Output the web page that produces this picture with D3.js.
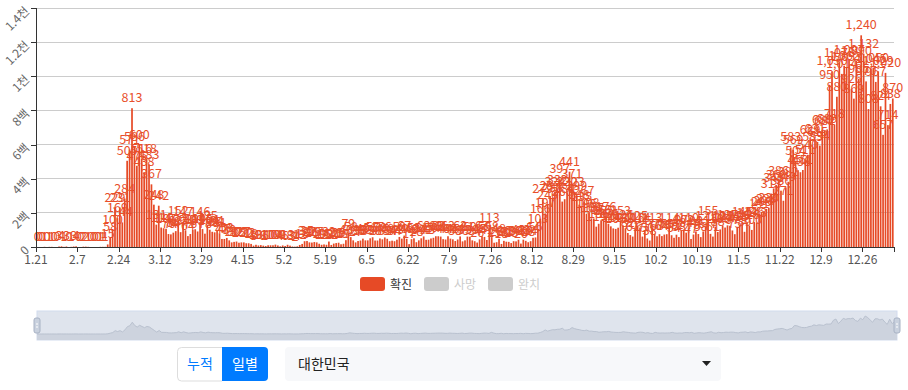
<!DOCTYPE html>
<html>
<head>
<meta charset="utf-8">
<title>코로나19 일별 확진</title>
<script src="https://cdn.jsdelivr.net/npm/d3@7/dist/d3.min.js"></script>
<style>
  body { margin: 0; background: #fff; }
  svg { display: block; font-family: "Noto Sans CJK KR", "Noto Sans", sans-serif; }
</style>
</head>
<body>
<script>
// 일별 확진자 (2020.1.21 ~ 2021.1.7)
var jan = [0,0,0,1,0,1,1,0,0,3,4];
var feb = [1,3,0,1,3,4,0,0,2,2,1,0,0,0,0,1,1,1,15,58,100,229,169,231,144,284,505,571,813];
var mar = [586,476,600,516,438,518,483,367,248,131,242,114,110,107,76,74,84,93,152,87,147,98,64,76,100,104,91,146,105,78,125];
var apr = [101,89,86,94,81,47,47,53,39,27,30,32,25,27,27,22,22,18,8,13,9,11,8,6,10,10,10,14,9,4];
var may = [9,6,13,8,3,2,4,12,18,34,35,27,26,29,27,19,13,15,13,32,12,20,23,25,16,19,40,79,58,39,27];
var jun = [35,38,49,39,39,51,57,38,38,50,45,56,48,34,37,34,43,59,49,67,48,17,46,51,28,39,51,62,42,43];
var jul = [50,54,63,63,61,46,44,63,49,45,35,44,62,33,39,61,60,39,34,26,45,63,59,41,113,58,25,28,48,18,36];
var aug = [31,30,23,34,33,43,20,43,36,28,34,54,56,103,166,279,197,246,297,288,324,332,397,266,280,320,441,371,323,299,248];
var sep = [235,267,195,198,168,167,119,136,156,155,176,136,121,109,106,113,153,126,110,82,70,61,110,125,114,61,95,50,38,113];
var oct = [77,63,75,64,73,75,114,69,54,72,58,97,102,84,110,47,73,91,76,58,91,121,155,77,61,119,88,103,125,114,127];
var nov = [124,97,75,118,125,145,89,143,126,100,146,143,191,205,208,223,230,313,343,363,386,330,271,349,382,583,569,504,450,438];
var dec = [451,511,540,629,583,631,615,594,686,682,689,950,1030,718,880,1078,1014,1062,1053,1097,926,869,1090,985,1240,1132,970,808,1045,1050,967];
var jan21 = [1029,824,657,1020,714,838,870];

var yTicks = [0, 200, 400, 600, 800, 1000, 1200, 1400];
var yTickLabels = ["0", "2백", "4백", "6백", "8백", "1천", "1.2천", "1.4천"];
var legendNames = ["확진", "사망", "완치"];

var values = [].concat(jan, feb, mar, apr, may, jun, jul, aug, sep, oct, nov, dec, jan21);
var start = new Date(2020, 0, 21);
var dates = values.map(function(v, i) { return d3.timeDay.offset(start, i); });

var W = 908, H = 390;
var red = "#e64a26";

var svg = d3.select("body").append("svg")
    .attr("width", W)
    .attr("height", H);

var x = d3.scaleBand()
    .domain(d3.range(values.length))
    .range([36, 894])
    .paddingInner(0.3)
    .paddingOuter(0.15);

var y = d3.scaleLinear()
    .domain([0, 1400])
    .range([247, 8]);

// 격자선
svg.append("g")
    .selectAll("line")
    .data(yTicks.slice(1))
    .enter().append("line")
        .attr("x1", 36).attr("x2", 894)
        .attr("y1", function(d) { return y(d); })
        .attr("y2", function(d) { return y(d); })
        .attr("stroke", "#ccc")
        .attr("stroke-width", 1)
        .attr("shape-rendering", "crispEdges");

// 막대
svg.append("g")
    .selectAll("rect")
    .data(values)
    .enter().append("rect")
        .attr("x", function(d, i) { return x(i); })
        .attr("y", function(d) { return y(d); })
        .attr("width", x.bandwidth())
        .attr("height", function(d) { return 247 - y(d); })
        .attr("fill", red);

// 값 라벨
svg.append("g")
    .selectAll("text")
    .data(values)
    .enter().append("text")
        .attr("x", function(d, i) { return x(i) + x.bandwidth() / 2; })
        .attr("y", function(d) { return y(d) - 6; })
        .attr("text-anchor", "middle")
        .attr("font-size", 12.5)
        .attr("fill", "#e84f2b")
        .text(function(d) { return d3.format(",")(d); });

// x축
var step = x.step();
var xPos = function(i) { return 36 + i * step; };
var tickIdx = d3.range(0, values.length, 17);
var xa = svg.append("g");
xa.append("line")
    .attr("x1", 36).attr("x2", 894)
    .attr("y1", 247.5).attr("y2", 247.5)
    .attr("stroke", "#333");
xa.selectAll("line.tick")
    .data(tickIdx.concat([values.length]))
    .enter().append("line")
        .attr("class", "tick")
        .attr("x1", function(i) { return Math.round(xPos(i)) + 0.5; })
        .attr("x2", function(i) { return Math.round(xPos(i)) + 0.5; })
        .attr("y1", 247).attr("y2", 252)
        .attr("stroke", "#333");
xa.selectAll("text")
    .data(tickIdx)
    .enter().append("text")
        .attr("x", function(i) { return xPos(i); })
        .attr("y", 264)
        .attr("text-anchor", "middle")
        .attr("font-size", 12)
        .attr("fill", "#555")
        .text(function(i) { return d3.timeFormat("%-m.%-d")(dates[i]); });

// y축
var ya = svg.append("g");
ya.append("line")
    .attr("x1", 36.5).attr("x2", 36.5)
    .attr("y1", 8).attr("y2", 247)
    .attr("stroke", "#333");
ya.selectAll("line.tick")
    .data(yTicks)
    .enter().append("line")
        .attr("class", "tick")
        .attr("x1", 31).attr("x2", 36)
        .attr("y1", function(d) { return Math.round(y(d)) + 0.5; })
        .attr("y2", function(d) { return Math.round(y(d)) + 0.5; })
        .attr("stroke", "#333");
ya.selectAll("text")
    .data(yTicks)
    .enter().append("text")
        .attr("transform", function(d) { return "translate(30," + (y(d) + 4) + ") rotate(-45)"; })
        .attr("text-anchor", "end")
        .attr("font-size", 12)
        .attr("fill", "#666")
        .text(function(d, i) { return yTickLabels[i]; });

// 범례
var legend = svg.append("g")
    .selectAll("g")
    .data(legendNames)
    .enter().append("g")
        .attr("transform", function(d, i) { return "translate(" + (360 + i * 64) + ",277)"; });
legend.append("rect")
    .attr("width", 25).attr("height", 14).attr("rx", 3)
    .attr("fill", function(d, i) { return i === 0 ? red : "#ccc"; });
legend.append("text")
    .attr("x", 30).attr("y", 11.5)
    .attr("font-size", 12)
    .attr("fill", function(d, i) { return i === 0 ? "#333" : "#ccc"; })
    .text(function(d) { return d; });

// 데이터 줌 슬라이더
var sx = d3.scaleLinear().domain([0, values.length - 1]).range([37, 897]);
var sy = d3.scaleLinear().domain([0, d3.max(values)]).range([334, 316]);
var slider = svg.append("g");
slider.append("rect")
    .attr("x", 37).attr("y", 311).attr("width", 860).attr("height", 29)
    .attr("fill", "#dfe4ed").attr("stroke", "#d2dbee");
slider.append("path")
    .datum(values)
    .attr("d", d3.area()
        .x(function(d, i) { return sx(i); })
        .y0(340)
        .y1(function(d) { return sy(d); }))
    .attr("fill", "#cdd3de");
slider.append("path")
    .datum(values)
    .attr("d", d3.line()
        .x(function(d, i) { return sx(i); })
        .y(function(d) { return sy(d); }))
    .attr("fill", "none")
    .attr("stroke", "#b9c1cf")
    .attr("stroke-width", 1);
[37, 897].forEach(function(hx) {
    slider.append("rect")
        .attr("x", hx - 3).attr("y", 318).attr("width", 6).attr("height", 15).attr("rx", 2)
        .attr("fill", "#c9d1de").attr("stroke", "#a8b2c4");
    slider.append("line")
        .attr("x1", hx - 1).attr("x2", hx + 1).attr("y1", 324).attr("y2", 324)
        .attr("stroke", "#fff");
    slider.append("line")
        .attr("x1", hx - 1).attr("x2", hx + 1).attr("y1", 327).attr("y2", 327)
        .attr("stroke", "#fff");
});

// 누적 / 일별 버튼
var btn = svg.append("g");
btn.append("path")
    .attr("d", "M222,347.5 H181.5 a4,4 0 0 0 -4,4 V377 a4,4 0 0 0 4,4 H222")
    .attr("fill", "#fff").attr("stroke", "#ddd");
btn.append("path")
    .attr("d", "M222,347 H264 a4,4 0 0 1 4,4 V377 a4,4 0 0 1 -4,4 H222 Z")
    .attr("fill", "#007bff");
btn.append("text")
    .attr("x", 200).attr("y", 369).attr("text-anchor", "middle")
    .attr("font-size", 14).attr("fill", "#007bff")
    .text("누적");
btn.append("text")
    .attr("x", 245).attr("y", 369).attr("text-anchor", "middle")
    .attr("font-size", 14).attr("fill", "#fff")
    .text("일별");

// 국가 선택
var sel = svg.append("g");
sel.append("rect")
    .attr("x", 285).attr("y", 347).attr("width", 436).attr("height", 34).attr("rx", 4)
    .attr("fill", "#f7f8fa");
sel.append("text")
    .attr("x", 298).attr("y", 369)
    .attr("font-size", 14).attr("fill", "#222")
    .text("대한민국");
sel.append("path")
    .attr("d", "M702,361 L711,361 L706.5,366 Z")
    .attr("fill", "#222");
</script>
</body>
</html>
